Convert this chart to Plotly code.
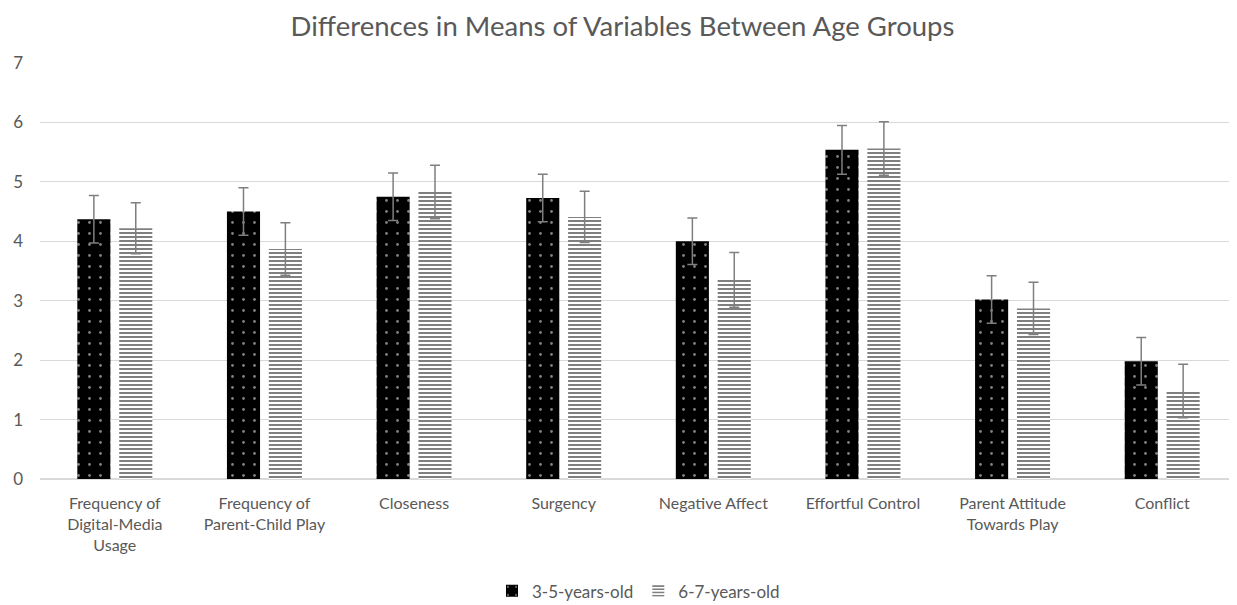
import plotly.graph_objects as go

categories = ["Frequency of<br>Digital-Media<br>Usage", "Frequency of<br>Parent-Child Play", "Closeness",
              "Surgency", "Negative Affect", "Effortful Control", "Parent Attitude<br>Towards Play", "Conflict"]
young_means = [4.37, 4.50, 4.75, 4.73, 4.00, 5.54, 3.02, 1.98]
young_err = [0.40, 0.40, 0.40, 0.40, 0.39, 0.41, 0.40, 0.40]
old_means = [4.22, 3.87, 4.83, 4.41, 3.35, 5.56, 2.87, 1.48]
old_err = [0.43, 0.44, 0.45, 0.43, 0.46, 0.45, 0.44, 0.45]
series_names = ["3-5-years-old", "6-7-years-old"]

font = "Lato, 'Open Sans', sans-serif"
grey = "#595959"

fig = go.Figure()
fig.add_trace(go.Bar(
    x=categories, y=young_means, name=series_names[0],
    error_y=dict(type="data", array=young_err, color="#7f7f7f", thickness=1.5, width=5),
    marker=dict(color="black", line=dict(width=0),
                pattern=dict(shape=".", fgcolor="white", bgcolor="black", size=11, solidity=0.05)),
))
fig.add_trace(go.Bar(
    x=categories, y=old_means, name=series_names[1],
    error_y=dict(type="data", array=old_err, color="#7f7f7f", thickness=1.5, width=5),
    marker=dict(color="white", line=dict(width=0),
                pattern=dict(shape="-", fgcolor="black", bgcolor="white", size=4, solidity=0.5)),
))

fig.update_layout(
    width=1229, height=597,
    paper_bgcolor="white", plot_bgcolor="white",
    margin=dict(l=32, r=0, t=55, b=126, autoexpand=False),
    barmode="group", bargap=0.44, bargroupgap=0.21,
    title=dict(text="Differences in Means of Variables Between Age Groups", x=0.5, xanchor="center",
               y=0.97, yanchor="middle",
               font=dict(family=font, size=27.5, color=grey)),
    font=dict(family=font, size=16, color=grey),
    xaxis=dict(showgrid=False, showline=True, linecolor="#d9d9d9", linewidth=1, ticks="",
               tickfont=dict(size=16, color=grey), ticklabelstandoff=10),
    yaxis=dict(range=[0, 7], dtick=1, showgrid=True, gridcolor="#d9d9d9", gridwidth=1,
               zeroline=True, zerolinecolor="#d9d9d9", showline=False, ticks="",
               tickfont=dict(size=17, color=grey), ticklabelstandoff=16),
    legend=dict(orientation="h", x=0.5, xanchor="center", y=-0.27, yanchor="middle",
                font=dict(size=17, color=grey), itemwidth=30),
    showlegend=True,
)

fig.write_html("out.html")
